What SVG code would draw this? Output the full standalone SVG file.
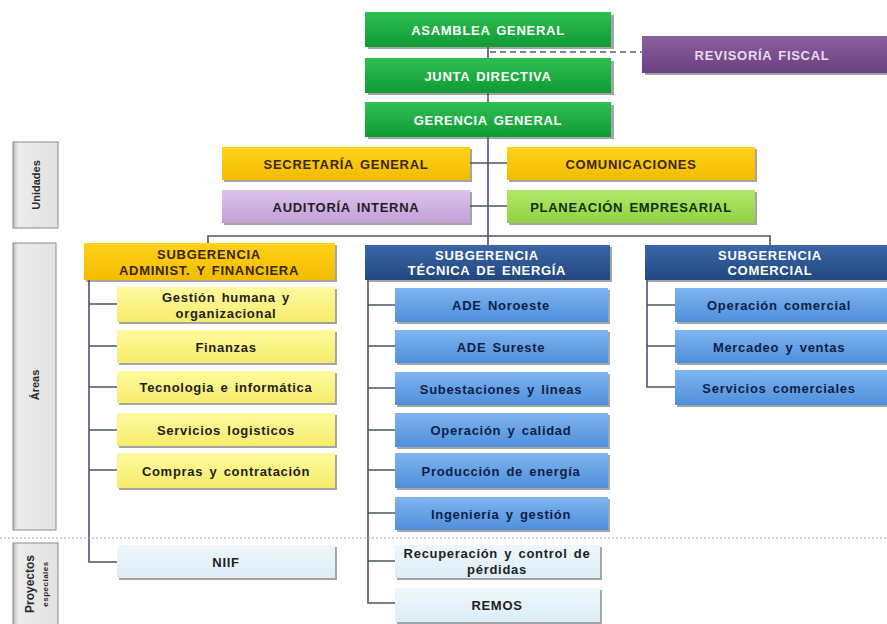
<svg xmlns="http://www.w3.org/2000/svg" width="887" height="624" viewBox="0 0 887 624">
<defs>
<linearGradient id="gGreen" x1="0" y1="0" x2="0" y2="1"><stop offset="0" stop-color="#2cc050"/><stop offset="1" stop-color="#109a36"/></linearGradient>
<linearGradient id="gGold" x1="0" y1="0" x2="0" y2="1"><stop offset="0" stop-color="#ffd21a"/><stop offset="1" stop-color="#f2bc00"/></linearGradient>
<linearGradient id="gLav" x1="0" y1="0" x2="0" y2="1"><stop offset="0" stop-color="#dcc3ec"/><stop offset="1" stop-color="#c3a0d8"/></linearGradient>
<linearGradient id="gLime" x1="0" y1="0" x2="0" y2="1"><stop offset="0" stop-color="#b2e86a"/><stop offset="1" stop-color="#8fd342"/></linearGradient>
<linearGradient id="gNavy" x1="0" y1="0" x2="0" y2="1"><stop offset="0" stop-color="#3a66a8"/><stop offset="1" stop-color="#21477f"/></linearGradient>
<linearGradient id="gBlue" x1="0" y1="0" x2="0" y2="1"><stop offset="0" stop-color="#7fb4ee"/><stop offset="1" stop-color="#4f8fdc"/></linearGradient>
<linearGradient id="gYel" x1="0" y1="0" x2="0" y2="1"><stop offset="0" stop-color="#fffaa0"/><stop offset="1" stop-color="#f6ec6a"/></linearGradient>
<linearGradient id="gPale" x1="0" y1="0" x2="0" y2="1"><stop offset="0" stop-color="#eef8fc"/><stop offset="1" stop-color="#dcedf6"/></linearGradient>
<linearGradient id="gPurp" x1="0" y1="0" x2="0" y2="1"><stop offset="0" stop-color="#8a5f9c"/><stop offset="1" stop-color="#6c4080"/></linearGradient>
<linearGradient id="gLbl" x1="0" y1="0" x2="1" y2="0"><stop offset="0" stop-color="#bdbdbd"/><stop offset="0.12" stop-color="#ececec"/><stop offset="1" stop-color="#e2e2e2"/></linearGradient>
</defs>
<style>
.sh{fill:#5a5a5a;opacity:0.55}
.t{font-family:"Liberation Sans",Arial,sans-serif;font-weight:bold;font-size:13px;text-anchor:middle;dominant-baseline:central;letter-spacing:0.7px;word-spacing:2px}
.w{fill:#ffffff}
.d{fill:#1e1e1e}
.nv{fill:#0d1f45}
.br{fill:#3a2600}
.pl{fill:#e8dcef}
.ln{fill:none;stroke:#4a5668;stroke-width:1.6}
.dash{fill:none;stroke:#555f6e;stroke-width:1.6;stroke-dasharray:6 4}
.dot{fill:none;stroke:#9aa3ad;stroke-width:1.2;stroke-dasharray:2 2}
.lbl{fill:url(#gLbl);stroke:#8a8a8a;stroke-width:1}
.lt{font-family:"Liberation Sans",Arial,sans-serif;font-weight:bold;font-size:11px;text-anchor:middle;dominant-baseline:central;fill:#2a2a2a}
</style>
<rect width="887" height="624" fill="#ffffff"/>

<g id="connectors">
<path class="ln" d="M488 47V102"/>
<path class="dash" d="M490 52H642"/>
<path class="ln" d="M488 137V236"/>
<path class="ln" d="M470 163H507M470 206H507"/>
<path class="ln" d="M208 243V236H770V245"/>
<path class="ln" d="M488 236V245"/>
<path class="ln" d="M89 280V562H117M89 304H117M89 346H117M89 387H117M89 430H117M89 470H117"/>
<path class="ln" d="M368 280V603H395M368 305H395M368 346H395M368 388H395M368 430H395M368 470H395M368 513H395M368 561H395"/>
<path class="ln" d="M647 280V387H675M647 305H675M647 346H675"/>
<path class="dot" d="M0 538H887"/>
</g>

<g id="lbl-unidades"><rect class="lbl" x="13" y="142" width="45" height="86"/><text class="lt" transform="translate(36 185) rotate(-90)">Unidades</text></g>
<g id="lbl-areas"><rect class="lbl" x="13" y="243" width="43" height="287"/><text class="lt" transform="translate(35 385) rotate(-90)">Áreas</text></g>
<g id="lbl-proyectos"><rect class="lbl" x="13" y="543" width="45" height="84"/><text class="lt" style="font-size:12px" transform="translate(30 584) rotate(-90)">Proyectos</text><text class="lt" style="font-size:8px;letter-spacing:0.5px" transform="translate(45 584) rotate(-90)">especiales</text></g>

<g id="asamblea"><rect class="sh" x="368" y="15" width="246" height="34"/><rect x="365" y="12" width="246" height="35" fill="url(#gGreen)"/><text class="t w" x="488" y="30">ASAMBLEA GENERAL</text></g>
<g id="junta"><rect class="sh" x="368" y="61" width="246" height="34"/><rect x="365" y="58" width="246" height="35" fill="url(#gGreen)"/><text class="t w" x="488" y="76">JUNTA DIRECTIVA</text></g>
<g id="gerencia"><rect class="sh" x="368" y="105" width="246" height="34"/><rect x="365" y="102" width="246" height="35" fill="url(#gGreen)"/><text class="t w" x="488" y="120">GERENCIA GENERAL</text></g>
<g id="revisoria"><rect class="sh" x="645" y="39" width="245" height="36"/><rect x="642" y="36" width="245" height="37" fill="url(#gPurp)"/><text class="t pl" x="762" y="55">REVISORÍA FISCAL</text></g>

<g id="secretaria"><rect class="sh" x="224" y="149" width="248" height="33"/><rect x="222" y="147" width="248" height="33" fill="url(#gGold)"/><text class="t br" x="346" y="164">SECRETARÍA GENERAL</text></g>
<g id="auditoria"><rect class="sh" x="224" y="192" width="248" height="33"/><rect x="222" y="190" width="248" height="33" fill="url(#gLav)"/><text class="t d" x="346" y="207">AUDITORÍA INTERNA</text></g>
<g id="comunicaciones"><rect class="sh" x="509" y="149" width="248" height="33"/><rect x="507" y="147" width="248" height="33" fill="url(#gGold)"/><text class="t br" x="631" y="164">COMUNICACIONES</text></g>
<g id="planeacion"><rect class="sh" x="509" y="192" width="248" height="33"/><rect x="507" y="190" width="248" height="33" fill="url(#gLime)"/><text class="t" style="fill:#10300a" x="631" y="207">PLANEACIÓN EMPRESARIAL</text></g>

<g id="sub-admin"><rect class="sh" x="86" y="245" width="251" height="37"/><rect x="84" y="243" width="251" height="37" fill="url(#gGold)"/><text class="t br" x="209" y="254">SUBGERENCIA</text><text class="t br" x="209" y="270">ADMINIST. Y FINANCIERA</text></g>
<g id="sub-tecnica"><rect class="sh" x="367" y="247" width="245" height="35"/><rect x="365" y="245" width="245" height="35" fill="url(#gNavy)"/><text class="t w" x="487" y="255">SUBGERENCIA</text><text class="t w" x="487" y="270">TÉCNICA DE ENERGÍA</text></g>
<g id="sub-comercial"><rect class="sh" x="647" y="247" width="245" height="35"/><rect x="645" y="245" width="245" height="35" fill="url(#gNavy)"/><text class="t w" x="770" y="255">SUBGERENCIA</text><text class="t w" x="770" y="270">COMERCIAL</text></g>

<g id="gestion"><rect class="sh" x="119" y="289" width="218" height="35"/><rect x="117" y="287" width="218" height="35" fill="url(#gYel)"/><text class="t d" x="226" y="297">Gestión humana y</text><text class="t d" x="226" y="313">organizacional</text></g>
<g id="finanzas"><rect class="sh" x="119" y="332" width="218" height="33"/><rect x="117" y="330" width="218" height="33" fill="url(#gYel)"/><text class="t d" x="226" y="347">Finanzas</text></g>
<g id="tecnologia"><rect class="sh" x="119" y="373" width="218" height="32"/><rect x="117" y="371" width="218" height="32" fill="url(#gYel)"/><text class="t d" x="226" y="387">Tecnologia e informática</text></g>
<g id="logisticos"><rect class="sh" x="119" y="415" width="218" height="33"/><rect x="117" y="413" width="218" height="33" fill="url(#gYel)"/><text class="t d" x="226" y="430">Servicios logisticos</text></g>
<g id="compras"><rect class="sh" x="119" y="455" width="218" height="35"/><rect x="117" y="453" width="218" height="35" fill="url(#gYel)"/><text class="t d" x="226" y="471">Compras y contratación</text></g>
<g id="niif"><rect class="sh" x="119" y="547" width="218" height="33"/><rect x="117" y="545" width="218" height="33" fill="url(#gPale)"/><text class="t d" x="226" y="562">NIIF</text></g>

<g id="ade-noroeste"><rect class="sh" x="397" y="290" width="213" height="34"/><rect x="395" y="288" width="213" height="34" fill="url(#gBlue)"/><text class="t nv" x="501" y="305">ADE Noroeste</text></g>
<g id="ade-sureste"><rect class="sh" x="397" y="332" width="213" height="33"/><rect x="395" y="330" width="213" height="33" fill="url(#gBlue)"/><text class="t nv" x="501" y="347">ADE Sureste</text></g>
<g id="subestaciones"><rect class="sh" x="397" y="374" width="213" height="33"/><rect x="395" y="372" width="213" height="33" fill="url(#gBlue)"/><text class="t nv" x="501" y="389">Subestaciones y lineas</text></g>
<g id="operacion-calidad"><rect class="sh" x="397" y="415" width="213" height="34"/><rect x="395" y="413" width="213" height="34" fill="url(#gBlue)"/><text class="t nv" x="501" y="430">Operación y calidad</text></g>
<g id="produccion"><rect class="sh" x="397" y="455" width="213" height="35"/><rect x="395" y="453" width="213" height="35" fill="url(#gBlue)"/><text class="t nv" x="501" y="471">Producción de energía</text></g>
<g id="ingenieria"><rect class="sh" x="397" y="499" width="213" height="33"/><rect x="395" y="497" width="213" height="33" fill="url(#gBlue)"/><text class="t nv" x="501" y="514">Ingeniería y gestión</text></g>
<g id="recuperacion"><rect class="sh" x="397" y="547" width="205" height="33"/><rect x="395" y="545" width="205" height="33" fill="url(#gPale)"/><text class="t d" x="497" y="553">Recuperación y control de</text><text class="t d" x="497" y="569">pérdidas</text></g>
<g id="remos"><rect class="sh" x="397" y="590" width="205" height="34"/><rect x="395" y="588" width="205" height="34" fill="url(#gPale)"/><text class="t d" x="497" y="605">REMOS</text></g>

<g id="op-comercial"><rect class="sh" x="677" y="290" width="213" height="34"/><rect x="675" y="288" width="213" height="34" fill="url(#gBlue)"/><text class="t nv" x="779" y="305">Operación comercial</text></g>
<g id="mercadeo"><rect class="sh" x="677" y="332" width="213" height="33"/><rect x="675" y="330" width="213" height="33" fill="url(#gBlue)"/><text class="t nv" x="779" y="347">Mercadeo y ventas</text></g>
<g id="serv-comerciales"><rect class="sh" x="677" y="372" width="213" height="35"/><rect x="675" y="370" width="213" height="35" fill="url(#gBlue)"/><text class="t nv" x="779" y="388">Servicios comerciales</text></g>
</svg>
